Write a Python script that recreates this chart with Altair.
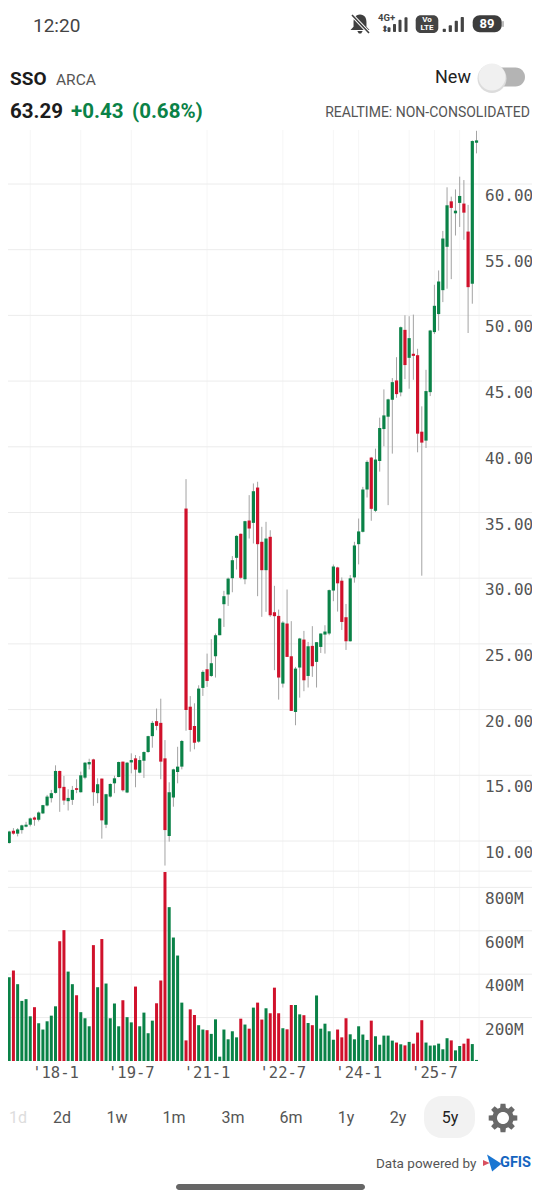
import math
import altair as alt
import pandas as pd

# ---------- values (one monthly candle per entry) ----------
body_top = [10.03,10.73,10.78,10.88,11.19,11.24,11.72,11.79,12.17,12.73,13.38,13.64,15.33,15.33,14.12,13.28,13.89,14.02,15.00,15.96,
            16.01,16.21,14.32,14.75,13.56,14.34,14.77,16.01,16.04,15.96,16.16,16.29,16.16,16.77,17.98,18.99,19.12,18.99,16.29,13.71,
            15.45,15.66,17.61,35.30,20.22,18.75,21.60,22.87,23.07,23.53,25.66,26.93,28.63,29.97,31.37,33.22,33.38,34.34,34.39,36.62,
            36.90,32.77,33.02,33.15,27.41,27.13,26.62,26.55,24.06,23.12,25.41,25.33,24.82,24.85,25.13,25.79,25.94,29.09,30.89,30.82,
            29.81,27.03,29.99,32.49,33.56,36.75,38.85,39.18,39.03,41.43,42.39,43.61,44.92,45.05,49.10,48.90,48.27,47.08,46.97,41.15,
            44.24,48.85,50.73,52.58,55.85,58.38,58.68,57.97,59.09,58.51,56.38,63.27,63.32]
body_bot = [9.60,9.85,10.56,10.56,10.83,11.09,11.24,11.62,11.62,12.10,12.70,13.26,13.66,14.02,13.08,13.03,13.13,13.89,13.71,14.82,
            15.83,13.71,13.64,11.57,11.24,13.38,14.39,14.87,13.86,13.69,15.98,15.43,15.20,16.11,16.77,17.98,18.76,16.04,10.83,10.38,
            13.31,15.25,15.66,19.97,18.45,17.48,17.56,21.65,22.18,22.56,24.06,25.66,28.02,28.76,30.00,31.55,30.03,29.92,33.78,34.21,
            32.59,30.61,30.61,27.18,27.11,22.44,21.98,24.01,19.90,19.82,23.20,22.23,22.56,23.30,23.63,24.77,25.71,25.79,29.06,29.61,
            26.67,25.20,25.20,30.06,32.59,33.53,36.75,35.28,35.13,38.92,41.35,42.29,43.58,44.01,44.14,46.22,46.77,46.92,41.00,40.32,
            40.47,44.16,48.73,50.10,51.92,55.22,58.18,57.77,58.56,57.82,52.15,52.41,63.14]
high = [10.10,10.78,10.98,10.98,11.24,11.46,11.79,11.87,12.25,12.75,13.51,13.89,15.76,15.35,14.95,13.94,14.19,14.70,15.28,16.01,
        16.26,16.26,14.77,14.75,13.59,14.39,14.97,16.04,16.04,16.01,16.67,16.54,16.46,16.82,18.01,19.14,20.08,20.83,17.68,14.47,
        15.50,17.17,17.69,37.54,21.03,20.48,21.85,22.99,24.26,25.36,25.79,26.98,29.04,30.05,31.68,33.27,33.40,34.37,36.32,37.21,
        37.34,33.91,34.29,33.65,29.42,27.61,26.73,29.14,26.73,23.25,25.46,25.99,25.15,26.35,25.13,25.79,26.42,29.14,31.04,30.87,
        30.06,28.04,30.24,32.77,34.54,36.95,38.97,39.23,39.86,42.22,44.37,43.66,45.23,46.82,49.15,50.01,49.94,50.06,47.46,43.08,
        45.86,48.90,52.33,53.42,56.43,59.75,59.04,59.59,60.56,60.30,58.41,63.32,64.05]
low = [9.55,9.80,10.48,10.35,10.56,11.04,11.11,11.16,11.49,12.05,12.63,12.93,13.61,12.22,12.75,12.32,12.75,13.64,13.69,14.70,
       15.45,12.68,12.88,10.18,10.98,13.31,13.64,14.85,13.76,13.64,15.15,14.09,15.15,14.80,16.72,17.10,18.43,14.70,8.13,9.95,
       12.61,14.39,15.45,18.39,16.80,16.98,17.48,21.04,21.73,22.49,22.44,25.66,26.29,27.89,28.93,30.66,29.92,29.54,33.02,32.64,
       28.63,27.06,27.44,27.06,23.00,20.76,21.68,24.01,19.90,18.81,20.91,21.40,21.68,22.49,21.68,24.31,24.26,25.66,28.25,27.46,
       26.06,24.54,25.18,29.66,31.05,33.48,36.14,34.37,35.03,38.11,40.04,35.56,39.48,43.73,43.84,45.15,44.42,45.10,39.58,30.19,
       39.91,43.86,48.58,48.84,51.01,52.03,52.76,56.08,56.73,55.75,48.66,50.89,62.33]
volume_m = [491,386,417,354,277,285,206,248,174,145,183,209,252,552,603,412,354,303,225,197,
            160,534,340,562,357,197,265,160,280,202,178,343,160,223,128,186,266,371,871,709,
            569,486,269,95,238,212,165,145,142,125,192,20,145,100,137,109,195,168,149,246,
            269,191,243,220,338,220,151,146,258,258,215,211,175,165,302,149,172,137,98,145,
            109,197,123,100,160,122,97,186,114,75,117,117,94,85,77,72,88,80,131,188,
            85,71,72,80,54,105,95,49,69,80,103,78,5]
down_months = [2,7,13,14,17,21,23,28,31,36,37,38,43,44,45,48,56,58,60,61,63,64,65,67,68,71,73,79,80,81,
               87,93,95,97,98,99,106,109,110]
price_ticks = [10,15,20,25,30,35,40,45,50,55,60]
volume_ticks = [200,400,600,800]
volume_top_line = [875]
x_tick_months = [12,30,48,66,84,102]
x_tick_labels = ["'18-1","'19-7","'21-1","'22-7","'24-1","'25-7"]
x_grid_months = [6,18,30,48,66,78,84,96,102,108,112.6]
periods = ["1d","2d","1w","1m","3m","6m","1y","2y","5y"]

# ---------- layout ----------
OX, OY = 8, 8          # where the plot area starts on the page
W, H = 524, 1183
GREEN, RED, WICK, GRID, VGRID, INK = "#0a8247", "#d0112b", "#a3a3a3", "#ececec", "#f6f6f6", "#555555"
MONO, SANS = "DejaVu Sans Mono", "Roboto"
def PX(v):
    return v - OX
def PY(v):
    return v - OY

xs = alt.Scale(domain=[(OX-5)/4.21, (OX+W-5)/4.21], range=[0, W], nice=False, zero=False, padding=0)
ys = alt.Scale(domain=[10-(OY+H-841)/13.14, 10+(841-OY)/13.14], range=[H, 0], nice=False, zero=False)
vs = alt.Scale(domain=[-(OY+H-1061)/0.217, (1061-OY)/0.217], range=[H, 0], nice=False, zero=False)
X = alt.X("i:Q", scale=xs, axis=None)

df = pd.DataFrame({"i": range(len(high)), "top": body_top, "bot": body_bot, "high": high, "low": low, "vol": volume_m})
df["dir"] = ["down" if i in down_months else "up" for i in df["i"]]
color = alt.Color("dir:N", scale=alt.Scale(domain=["up", "down"], range=[GREEN, RED]), legend=None)

def text(t, x, y, size, col=INK, font=SANS, weight="normal", align="left", **kw):
    return alt.Chart(pd.DataFrame({"t": [t]})).mark_text(
        font=font, fontSize=size, color=col, fontWeight=weight, align=align, baseline="middle", **kw
    ).encode(x=alt.value(PX(x)), y=alt.value(PY(y)), text="t:N")

def box(x1, y1, x2, y2, col, r=0):
    return alt.Chart(pd.DataFrame({"a": [0]})).mark_rect(color=col, cornerRadius=r).encode(
        x=alt.value(PX(x1)), x2=alt.value(PX(x2)), y=alt.value(PY(y1)), y2=alt.value(PY(y2)))

def line(x1, y1, x2, y2, col, w=1.0):
    return alt.Chart(pd.DataFrame({"a": [0]})).mark_rule(color=col, strokeWidth=w).encode(
        x=alt.value(PX(x1)), x2=alt.value(PX(x2)), y=alt.value(PY(y1)), y2=alt.value(PY(y2)))

def glyph(path, x, y, d, col):
    return alt.Chart(pd.DataFrame({"a": [0]})).mark_point(shape=path, filled=True, color=col, opacity=1, size=d*d, strokeWidth=0).encode(
        x=alt.value(PX(x)), y=alt.value(PY(y)))

layers = []

# grid
layers.append(alt.Chart(pd.DataFrame({"i": x_grid_months})).mark_rule(color=VGRID, strokeWidth=1).encode(
    x=X, y=alt.value(PY(130)), y2=alt.value(PY(1061))))
layers.append(alt.Chart(pd.DataFrame({"p": price_ticks})).mark_rule(color=GRID, strokeWidth=1).encode(
    y=alt.Y("p:Q", scale=ys, axis=None), x=alt.value(0), x2=alt.value(W)))
layers.append(alt.Chart(pd.DataFrame({"v": volume_ticks + volume_top_line})).mark_rule(color=GRID, strokeWidth=1).encode(
    y=alt.Y("v:Q", scale=vs, axis=None), x=alt.value(0), x2=alt.value(W)))

# candles
base = alt.Chart(df)
layers.append(base.mark_rule(color=WICK, strokeWidth=1).encode(
    x=X, y=alt.Y("low:Q", scale=ys, axis=None), y2="high:Q"))
layers.append(base.mark_bar(size=3.2, orient="vertical").encode(
    x=X, y=alt.Y("bot:Q", scale=ys, axis=None), y2="top:Q", color=color))
# volume
layers.append(base.mark_bar(size=3.0, orient="vertical").encode(
    x=X, y=alt.Y("vol:Q", scale=vs, axis=None, stack=None), color=color))

# tick labels
layers.append(alt.Chart(pd.DataFrame({"p": price_ticks})).mark_text(
    font=MONO, fontSize=16, color=INK, align="left", baseline="middle", dy=12
).encode(y=alt.Y("p:Q", scale=ys, axis=None), x=alt.value(PX(485)), text=alt.Text("p:Q", format=".2f")))
layers.append(alt.Chart(pd.DataFrame({"v": volume_ticks})).transform_calculate(l="datum.v + 'M'").mark_text(
    font=MONO, fontSize=16, color=INK, align="left", baseline="middle", dy=12
).encode(y=alt.Y("v:Q", scale=vs, axis=None), x=alt.value(PX(485)), text=alt.Text("l:N")))
layers.append(alt.Chart(pd.DataFrame({"i": x_tick_months, "t": x_tick_labels})).mark_text(
    font=MONO, fontSize=15.5, color=INK, align="center", baseline="middle"
).encode(x=X, y=alt.value(PY(1073)), text="t:N"))

# status bar
layers.append(text("12:20", 33, 26, 19, "#444444"))
bell = ("M0,-1 C-0.5,-1 -0.68,-0.6 -0.68,-0.2 L-0.68,0.3 L-1,0.62 L1,0.62 L0.68,0.3 L0.68,-0.2 C0.68,-0.6 0.5,-1 0,-1 Z "
        "M-0.28,0.74 L0.28,0.74 L0.12,1 L-0.12,1 Z")
layers.append(glyph(bell, 360, 24, 19, "#3f3f3f"))
layers.append(line(352, 15, 369, 33, "#ffffff", 3.4))
layers.append(line(352, 15, 369, 33, "#3f3f3f", 1.6))
layers.append(text("4G+", 378, 18, 9.5, "#444444", weight="bold"))
layers.append(text("⬍", 381, 29, 9, "#444444", font="DejaVu Sans"))
for x, t in zip([389, 394.5, 400, 406], [27.3, 24, 19.7, 17.3]):
    layers.append(box(x-1.5, t, x+1.5, 32, "#444444", 1))
layers.append(box(415.7, 15.3, 438.3, 33, "#444444", 5))
layers.append(text("Vo", 427, 20, 8, "#ffffff", weight="bold", align="center"))
layers.append(text("LTE", 427, 28, 8, "#ffffff", weight="bold", align="center"))
for x, t in zip([444.3, 450.3, 456.3, 462.3], [28.7, 25.3, 20.7, 17]):
    layers.append(box(x-1.6, t, x+1.6, 32, "#444444", 1))
layers.append(box(472.7, 15.3, 501.7, 32.3, "#3c3c3c", 7))
layers.append(box(502, 21, 504, 27, "#bdbdbd", 1))
layers.append(text("89", 487, 24, 13, "#ffffff", weight="bold", align="center"))

# header
layers.append(text("SSO", 10, 79, 19, "#1c1c1c", weight="bold"))
layers.append(text("ARCA", 56, 80, 15.5, "#555555"))
layers.append(text("63.29", 10, 112, 20.5, "#1c1c1c", weight="bold"))
layers.append(text("+0.43", 71, 112, 20.5, GREEN, weight="bold"))
layers.append(text("(0.68%)", 132, 112, 20.5, GREEN, weight="bold"))
layers.append(text("New", 435, 78, 18, "#222222"))
layers.append(box(483, 67.5, 525, 86.5, "#b4b4b4", 9.5))
circle = "M0,-1 A1,1 0 1 1 0,1 A1,1 0 1 1 0,-1 Z"
layers.append(glyph(circle, 492, 78.5, 29, "#dcdcdc"))
layers.append(glyph(circle, 492, 77, 27, "#f0f0f0"))
layers.append(text("REALTIME: NON-CONSOLIDATED", 530, 113, 14, "#555555", align="right"))

# footer
layers.append(box(424, 1096, 475, 1138, "#f2f2f2", 18))
cx = [18, 62, 117, 174, 233, 291, 346, 398, 450]
for t, x in zip(periods, cx):
    c = "#dddddd" if t == "1d" else ("#222222" if t == "5y" else "#555555")
    layers.append(text(t, x, 1118, 16, c, align="center"))

def gear_path(teeth=8, ro=1.0, ri=0.74):
    pts = []
    for k in range(teeth):
        a0 = 2*math.pi*k/teeth
        for da, r in [(-0.27, ri), (-0.17, ro), (0.17, ro), (0.27, ri)]:
            a = a0 + da
            pts.append(f"{r*math.cos(a):.3f},{r*math.sin(a):.3f}")
    return "M" + " L".join(pts) + " Z"
layers.append(glyph(gear_path(), 503, 1118, 29, "#696969"))
layers.append(glyph(circle, 503, 1118, 12, "#ffffff"))

layers.append(text("Data powered by", 376, 1164, 13.5, "#555555"))
layers.append(glyph("M-1,-0.5 L0.1,0 L-1,0.5 Z", 489, 1163, 12, "#d9505f"))
layers.append(glyph("M-0.7,-1 L1,0.1 L-0.1,1 Z", 493, 1163, 17, "#1976d2"))
layers.append(text("GFIS", 500, 1163, 14.5, "#1565c0", weight="bold"))
layers.append(box(176, 1184, 365, 1190, "#666666", 3))

chart = alt.layer(*layers).resolve_scale(y="independent", color="shared").properties(
    width=W, height=H, padding=0, autosize="none"
).configure_view(stroke=None)

chart.save("out.html", embed_options={"renderer": "svg", "actions": False})
